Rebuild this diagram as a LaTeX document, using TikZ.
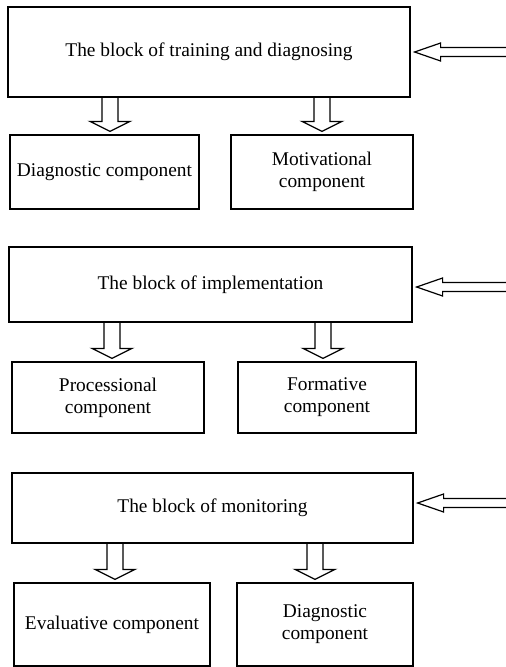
\documentclass[tikz,border=0pt]{standalone}
\usepackage{fontspec}
\setmainfont{Liberation Serif}

% hollow arrow from the bottom of #1 down to the top of #2, at the x of #3
\newcommand{\hollowdown}[3]{%
  \path (#1.south -| #3) coordinate (hs) (#2.north -| #3) coordinate (he);
  \draw[hollow] ([xshift=-8pt]hs) -- ([xshift=-8pt,yshift=13pt]he) -- ([xshift=-20pt,yshift=13pt]he)
    -- ([yshift=3pt]he) -- ([xshift=20pt,yshift=13pt]he) -- ([xshift=8pt,yshift=13pt]he) -- ([xshift=8pt]hs);}

% hollow arrow from the free end #1 left to the side of #2
\newcommand{\hollowleft}[2]{%
  \path (#2.east |- #1) coordinate (he);
  \draw[hollow] ([yshift=4.5pt]#1) -- ([xshift=30pt,yshift=4.5pt]he) -- ([xshift=30pt,yshift=9pt]he)
    -- ([xshift=4pt]he) -- ([xshift=30pt,yshift=-9pt]he) -- ([xshift=30pt,yshift=-4.5pt]he) -- ([yshift=-4.5pt]#1);}

\begin{document}
\begin{tikzpicture}[x=1pt,y=-1pt,
  box/.style={draw,line width=1.2pt,align=center,inner sep=0pt,font=\fontsize{19.4}{22}\selectfont},
  hollow/.style={draw,line width=1.2pt,line join=miter}]

\useasboundingbox (0,0) rectangle (506,667);

% block of training and diagnosing
\node[box,minimum width=402pt,minimum height=90pt] (train) at (209,52) {The block of training and diagnosing};
\node[box,minimum width=189pt,minimum height=74pt] (diag1) at (104.5,172) {Diagnostic component};
\node[box,minimum width=182pt,minimum height=74pt] (motiv) at (322,172) {Motivational\\component};

\coordinate (in1) at (510,52);
\coordinate (x1a) at (110,0);
\coordinate (x1b) at (322,0);
\hollowleft{in1}{train}
\hollowdown{train}{diag1}{x1a}
\hollowdown{train}{motiv}{x1b}

% block of implementation
\node[box,minimum width=403pt,minimum height=75pt] (impl) at (210.5,284.5) {The block of implementation};
\node[box,minimum width=192pt,minimum height=71pt] (proc) at (108,397.5) {Processional\\component};
\node[box,minimum width=178pt,minimum height=71pt] (form) at (327,397.5) {Formative\\component};

\coordinate (in2) at (510,287);
\coordinate (x2a) at (112,0);
\coordinate (x2b) at (323,0);
\hollowleft{in2}{impl}
\hollowdown{impl}{proc}{x2a}
\hollowdown{impl}{form}{x2b}

% block of monitoring
\node[box,minimum width=401pt,minimum height=70pt] (monit) at (212.5,508) {The block of monitoring};
\node[box,minimum width=196pt,minimum height=83pt] (eval) at (112,624.5) {Evaluative component};
\node[box,minimum width=176pt,minimum height=83pt] (diag3) at (325,624.5) {Diagnostic\\component};

\coordinate (in3) at (510,503);
\coordinate (x3a) at (115,0);
\coordinate (x3b) at (315,0);
\hollowleft{in3}{monit}
\hollowdown{monit}{eval}{x3a}
\hollowdown{monit}{diag3}{x3b}

\end{tikzpicture}
\end{document}
